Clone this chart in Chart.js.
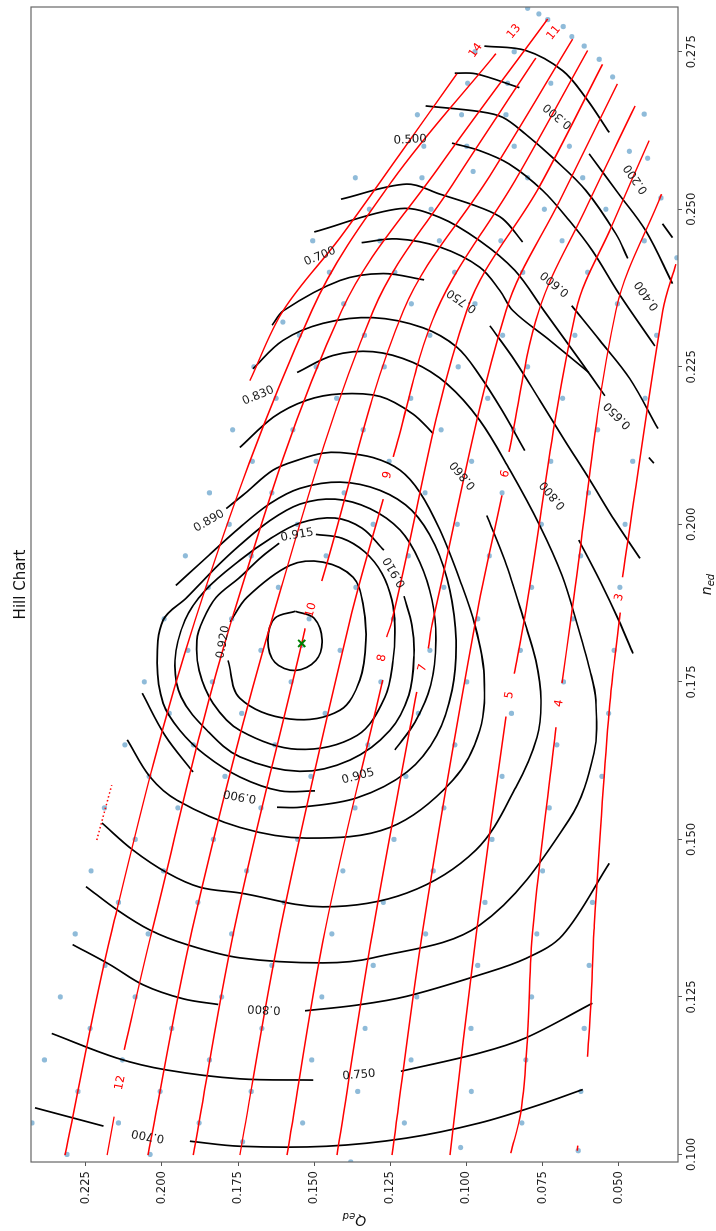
<!DOCTYPE html>
<html>
<head>
<meta charset="utf-8">
<title>Hill Chart</title>
<script src="https://cdn.jsdelivr.net/npm/chart.js@4.4.1/dist/chart.umd.min.js"></script>
<style>
    html, body { margin: 0; padding: 0; background: #fff; overflow: hidden; }
    #turn { position: absolute; left: 0; top: 0; width: 1231px; height: 716px;
            transform-origin: 0 0; transform: translate(0, 1231px) rotate(-90deg); }
</style>
</head>
<body>
<div id="turn"><canvas id="hill" width="1231" height="716"></canvas></div>
<script>
// ===== Axes =====
const nTicks = [0.100, 0.125, 0.150, 0.175, 0.200, 0.225, 0.250, 0.275];
const qTicks = [0.050, 0.075, 0.100, 0.125, 0.150, 0.175, 0.200, 0.225];
const nRange = [0.0988, 0.2821];
const qRange = [0.0305, 0.2430];

// ===== Measured points [n_ed, Q_ed] =====
const measured = [
    [0.275,0.0972],[0.270,0.0996],[0.265,0.1161],[0.265,0.1016],[0.260,0.1140],[0.260,0.0999],[0.256,0.0978],
    [0.255,0.1365],[0.255,0.1146],[0.250,0.1319],[0.250,0.1116],[0.245,0.1505],[0.245,0.1284],[0.245,0.1089],
    [0.240,0.1450],[0.240,0.1235],[0.240,0.1039],[0.235,0.1403],[0.235,0.1181],[0.235,0.0972],
    [0.2819,0.0799],[0.2810,0.0762],[0.2801,0.0733],[0.2790,0.0682],[0.2774,0.0654],[0.2759,0.0613],[0.2738,0.0564],
    [0.2710,0.0520],[0.2651,0.0416],[0.2592,0.0465],[0.2581,0.0405],[0.2518,0.0361],[0.2423,0.0309],
    [0.275,0.0843],[0.270,0.0865],[0.270,0.0723],[0.265,0.0870],[0.260,0.0843],[0.260,0.0662],[0.255,0.0799],
    [0.255,0.0618],[0.250,0.0744],[0.250,0.0542],[0.245,0.0887],[0.245,0.0686],[0.245,0.0416],[0.240,0.0815],
    [0.240,0.0602],[0.235,0.0504],
    [0.215,0.1768],[0.205,0.1844],[0.200,0.1779],[0.195,0.1923],[0.190,0.1848],[0.185,0.1993],[0.185,0.1771],
    [0.2321,0.1603],[0.230,0.1549],[0.230,0.1335],[0.230,0.1120],[0.225,0.1494],[0.225,0.1270],[0.225,0.1027],
    [0.225,0.1698],[0.220,0.1625],[0.220,0.1426],[0.220,0.1183],[0.215,0.1570],[0.215,0.1339],[0.215,0.1083],
    [0.210,0.1703],[0.210,0.1494],[0.210,0.1254],[0.210,0.0983],[0.205,0.1639],[0.205,0.1402],[0.205,0.1136],
    [0.200,0.1555],[0.200,0.1306],[0.200,0.1030],[0.195,0.1707],[0.195,0.1461],[0.195,0.1191],[0.190,0.1618],
    [0.190,0.1363],[0.190,0.1074],[0.185,0.1517],[0.185,0.1240],
    [0.230,0.0881],[0.230,0.0644],[0.230,0.0375],[0.225,0.0799],[0.220,0.0930],[0.220,0.0684],[0.220,0.0413],
    [0.215,0.0846],[0.215,0.0569],[0.210,0.0723],[0.210,0.0454],[0.205,0.0883],[0.205,0.0599],[0.200,0.0754],
    [0.200,0.0479],[0.195,0.0925],[0.195,0.0625],[0.190,0.0786],[0.190,0.0496],
    [0.180,0.1915],[0.175,0.2058],[0.175,0.1834],[0.170,0.1976],[0.165,0.2122],[0.165,0.1897],[0.160,0.2042],
    [0.160,0.1793],[0.155,0.2189],[0.155,0.1948],[0.150,0.2088],[0.150,0.1831],[0.145,0.2233],[0.145,0.1995],
    [0.140,0.2143],[0.140,0.1882],[0.135,0.2285],
    [0.1808,0.1541],[0.180,0.1675],[0.180,0.1415],[0.180,0.1120],[0.175,0.1576],[0.175,0.1281],[0.175,0.0999],
    [0.170,0.1738],[0.170,0.1464],[0.170,0.1158],[0.165,0.1629],[0.165,0.1324],[0.165,0.1038],[0.160,0.1511],
    [0.160,0.1199],[0.155,0.1675],[0.155,0.1366],[0.155,0.1074],[0.150,0.1554],[0.150,0.1238],[0.145,0.1722],
    [0.145,0.1406],[0.145,0.1109],[0.140,0.1599],[0.140,0.1273],
    [0.185,0.0963],[0.185,0.0651],[0.180,0.0823],[0.180,0.0515],[0.175,0.0681],[0.170,0.0852],[0.170,0.0533],
    [0.165,0.0703],[0.160,0.0883],[0.160,0.0555],[0.155,0.0728],[0.150,0.0916],[0.140,0.0586],[0.145,0.0750],
    [0.140,0.0939],
    [0.135,0.2045],[0.135,0.1771],[0.130,0.2187],[0.125,0.2334],[0.125,0.2088],[0.125,0.1804],[0.120,0.2236],
    [0.120,0.1968],[0.115,0.2386],[0.115,0.2130],[0.115,0.1844],[0.110,0.2276],[0.110,0.2006],[0.105,0.2427],
    [0.105,0.2143],[0.105,0.1878],[0.100,0.2312],[0.100,0.2039],
    [0.135,0.1442],[0.135,0.1134],[0.130,0.1639],[0.130,0.1306],[0.130,0.0963],[0.125,0.1475],[0.125,0.1163],
    [0.120,0.1672],[0.120,0.1333],[0.120,0.0985],[0.115,0.1508],[0.115,0.1182],[0.110,0.1707],[0.110,0.1357],
    [0.110,0.0984],[0.105,0.1538],[0.105,0.1204],[0.102,0.1735],[0.0988,0.1380],[0.1011,0.1019],
    [0.135,0.0769],[0.130,0.0597],[0.125,0.0786],[0.120,0.0613],[0.115,0.0805],[0.110,0.0624],[0.105,0.0818],
    [0.1006,0.0633]
];
const bestPoint = [0.1811, 0.1541];

// ===== Efficiency contours [n_ed, Q_ed], split where a label sits =====
const eff925 = [[0.1862,0.1562],[0.1851,0.1500],[0.1816,0.1474],[0.1784,0.1494],[0.1768,0.1562],[0.1781,0.1629],[0.1816,0.1652],[0.1851,0.1629],[0.1862,0.1562]];
const eff920 = [[0.1784,0.1783],[0.1724,0.1744],[0.1691,0.1579],[0.1705,0.1415],[0.1753,0.1350],[0.1816,0.1330],[0.1875,0.1340],[0.1916,0.1372],[0.1940,0.1471],[0.1935,0.1579],[0.1884,0.1721],[0.1845,0.1776]];
const eff915 = [[0.1984,0.1494],[0.1978,0.1409],[0.1956,0.1333],[0.1922,0.1277],[0.1880,0.1245],[0.1835,0.1235],[0.1784,0.1241],[0.1726,0.1267],[0.1665,0.1359],[0.1643,0.1556],[0.1673,0.1744],[0.1716,0.1832],[0.1768,0.1878],[0.1816,0.1885],[0.1848,0.1865],[0.1884,0.1822],[0.1916,0.1744],[0.1949,0.1671],[0.1970,0.1615]];
const eff910 = [[0.1886,0.1205],[0.1840,0.1179],[0.1792,0.1172],[0.1729,0.1189],[0.1673,0.1251],[0.1626,0.1382],[0.1608,0.1547],[0.1631,0.1744],[0.1673,0.1852],[0.1726,0.1937],[0.1784,0.1957],[0.1848,0.1924],[0.1895,0.1858],[0.1943,0.1744],[0.1977,0.1645],[0.2002,0.1547],[0.2010,0.1432],[0.1994,0.1343],[0.1959,0.1271]];
const eff905 = [[0.1642,0.1235],[0.1686,0.1169],[0.1745,0.1117],[0.1816,0.1100],[0.1880,0.1113],[0.1940,0.1153],[0.1991,0.1218],[0.2025,0.1317],[0.2040,0.1432],[0.2032,0.1547],[0.2006,0.1645],[0.1967,0.1744],[0.1930,0.1826],[0.1884,0.1918],[0.1848,0.1996],[0.1780,0.2016],[0.1716,0.1996],[0.1673,0.1941],[0.1634,0.1858],[0.1599,0.1744],[0.1577,0.1612],[0.1577,0.1497]];
const eff900a = [[0.1903,0.1954],[0.1938,0.1875],[0.1995,0.1744],[0.2033,0.1645],[0.2057,0.1547],[0.2067,0.1415],[0.2054,0.1284],[0.2022,0.1179],[0.1967,0.1103],[0.1895,0.1054],[0.1816,0.1034],[0.1737,0.1047],[0.1665,0.1097],[0.1607,0.1195],[0.1566,0.1359],[0.1551,0.1547],[0.1551,0.1622]];
const eff900b = [[0.1607,0.1898],[0.1665,0.1990],[0.1732,0.2065]];
const eff890 = [[0.2025,0.1789],[0.2049,0.1727],[0.2086,0.1635],[0.2103,0.1547],[0.2113,0.1471],[0.2114,0.1415],[0.2106,0.1307],[0.2086,0.1218],[0.2051,0.1153],[0.1991,0.1087],[0.1911,0.1021],[0.1840,0.0972],[0.1761,0.0942],[0.1673,0.0956],[0.1594,0.1044],[0.1519,0.1251],[0.1502,0.1524],[0.1519,0.1744],[0.1562,0.1950],[0.1599,0.2039],[0.1658,0.2114]];
const eff860a = [[0.2122,0.1744],[0.2170,0.1634],[0.2197,0.1524],[0.2207,0.1415],[0.2203,0.1284],[0.2175,0.1175],[0.2144,0.1109]];
const eff860b = [[0.2014,0.0933],[0.1943,0.0874],[0.1848,0.0811],[0.1784,0.0772],[0.1721,0.0755],[0.1662,0.0768],[0.1583,0.0837],[0.1483,0.0969],[0.1415,0.1195],[0.1393,0.1471],[0.1415,0.1744],[0.1424,0.1875],[0.1447,0.1983],[0.1483,0.2095],[0.1526,0.2197]];
const eff830 = [[0.2241,0.1556],[0.2268,0.1438],[0.2274,0.1307],[0.2257,0.1176],[0.2223,0.1064],[0.2165,0.0956],[0.2086,0.0857],[0.1998,0.0759],[0.1919,0.0686],[0.1848,0.0640],[0.1768,0.0594],[0.1721,0.0575],[0.1637,0.0581],[0.1531,0.0663],[0.1364,0.0956],[0.1312,0.1307],[0.1304,0.1471],[0.1312,0.1744],[0.1333,0.1918],[0.1356,0.2039],[0.1388,0.2147],[0.1425,0.2249]];
const eff800a = [[0.2247,0.1701],[0.2292,0.1602],[0.2319,0.1471],[0.2328,0.1307],[0.2312,0.1143],[0.2281,0.1031],[0.2236,0.0956],[0.2181,0.0883],[0.2117,0.0808]];
const eff800b = [[0.1975,0.0631],[0.1911,0.0562],[0.1848,0.0500],[0.1795,0.0453]];
const eff800c = [[0.1333,0.2293],[0.1301,0.2170],[0.1269,0.2061],[0.1247,0.1930],[0.1238,0.1815]];
const eff800d = [[0.1228,0.1530],[0.1237,0.1360],[0.1251,0.1196],[0.1285,0.0956],[0.1311,0.0805],[0.1348,0.0684],[0.1462,0.0531]];
const eff750a = [[0.2316,0.1638],[0.2339,0.1601],[0.2387,0.1415],[0.2398,0.1273],[0.2388,0.1139]];
const eff750b = [[0.2315,0.0923],[0.2260,0.0841],[0.2197,0.0759],[0.2133,0.0677],[0.2070,0.0594],[0.2006,0.0513],[0.1946,0.0430]];
const eff750c = [[0.1192,0.2362],[0.1153,0.2148],[0.1134,0.1984],[0.1120,0.1744],[0.1118,0.1503]];
const eff750d = [[0.1132,0.1215],[0.1161,0.0956],[0.1185,0.0805],[0.1240,0.0586]];
const eff700a = [[0.2447,0.1344],[0.2453,0.1229],[0.2440,0.1087],[0.2408,0.0956],[0.2371,0.0890],[0.2339,0.0847],[0.2292,0.0726],[0.2241,0.0598]];
const eff700b = [[0.1074,0.2417],[0.1045,0.2192]];
const eff700c = [[0.1021,0.1908],[0.1013,0.1744],[0.1013,0.1459],[0.1026,0.1196],[0.1050,0.0956],[0.1079,0.0759],[0.1103,0.0618]];
const eff650a = [[0.2464,0.1500],[0.2501,0.1218],[0.2487,0.1087],[0.2450,0.0956],[0.2403,0.0841],[0.2339,0.0745],[0.2260,0.0627],[0.2204,0.0545]];
const eff650b = [[0.2106,0.0401],[0.2097,0.0384]];
const eff600a = [[0.2516,0.1412],[0.2540,0.1196],[0.2524,0.1087],[0.2503,0.0956],[0.2485,0.0881],[0.2448,0.0815]];
const eff600b = [[0.2347,0.0654],[0.2292,0.0562],[0.2231,0.0463],[0.2152,0.0371]];
const eff500 = [[0.2605,0.1047],[0.2593,0.0956],[0.2572,0.0860],[0.2530,0.0750],[0.2482,0.0662],[0.2434,0.0586],[0.2366,0.0499],[0.2283,0.0381]];
const eff400 = [[0.2664,0.1134],[0.2655,0.0956],[0.2646,0.0881],[0.2619,0.0805],[0.2582,0.0717],[0.2530,0.0608],[0.2461,0.0509],[0.2422,0.0470]];
const eff300a = [[0.2716,0.1038],[0.2715,0.0969],[0.2693,0.0826]];
const eff300b = [[0.2588,0.0597],[0.2524,0.0499],[0.2466,0.0411],[0.2382,0.0323]];
const eff200a = [[0.2759,0.0941],[0.2752,0.0805],[0.2720,0.0684],[0.2677,0.0608],[0.2622,0.0531]];
const eff200b = [[0.2477,0.0356],[0.2455,0.0323]];

// ===== Guide vane opening lines [n_ed, Q_ed] =====
const open14 = [[0.2228,0.1711],[0.2339,0.1602],[0.2455,0.1415],[0.2588,0.1218],[0.2715,0.1031]];
const open14tail = [[0.1499,0.2214],[0.1586,0.2165]];
const open13 = [[0.0999,0.2318],[0.1356,0.2164],[0.1848,0.1891],[0.2339,0.1508],[0.2545,0.1244],[0.2747,0.0903]];
const open12a = [[0.0999,0.2180],[0.1060,0.2157]];
const open12b = [[0.1166,0.2124],[0.1356,0.2032],[0.1848,0.1771],[0.2339,0.1410],[0.2569,0.1087],[0.2802,0.0733]];
const open11 = [[0.0999,0.2046],[0.1356,0.1901],[0.1848,0.1639],[0.2339,0.1306],[0.2545,0.1038],[0.2740,0.0772]];
const open10a = [[0.0999,0.1897],[0.1356,0.1763],[0.1811,0.1541],[0.1835,0.1530]];
const open10b = [[0.1910,0.1475],[0.2339,0.1207],[0.2553,0.0923],[0.2770,0.0651]];
const open9a = [[0.0999,0.1744],[0.1356,0.1612],[0.1848,0.1382],[0.2040,0.1273]];
const open9b = [[0.2107,0.1240],[0.2339,0.1098],[0.2545,0.0841],[0.2752,0.0602]];
const open8a = [[0.0999,0.1589],[0.1356,0.1464],[0.1753,0.1275]];
const open8b = [[0.1821,0.1262],[0.1848,0.1244],[0.2339,0.0999],[0.2537,0.0759],[0.2730,0.0553]];
const open7a = [[0.0999,0.1425],[0.1356,0.1307],[0.1734,0.1163]];
const open7b = [[0.1803,0.1125],[0.1848,0.1110],[0.2339,0.0870],[0.2514,0.0693],[0.2699,0.0504]];
const open6a = [[0.0999,0.1244],[0.1356,0.1143],[0.1848,0.0969],[0.2046,0.0883]];
const open6b = [[0.2115,0.0860],[0.2339,0.0762],[0.2498,0.0611],[0.2664,0.0446]];
const open5a = [[0.0999,0.1054],[0.1356,0.0966],[0.1695,0.0870]];
const open5b = [[0.1763,0.0843],[0.1848,0.0810],[0.2339,0.0640],[0.2474,0.0522],[0.2609,0.0400]];
const open4a = [[0.1002,0.0854],[0.1068,0.0821],[0.1190,0.0799],[0.1356,0.0782],[0.1678,0.0706]];
const open4b = [[0.1748,0.0686],[0.1848,0.0657],[0.2339,0.0509],[0.2524,0.0359]];
const open3a = [[0.1155,0.0602],[0.1240,0.0591],[0.1356,0.0581],[0.1705,0.0531],[0.1860,0.0495]];
const open3b = [[0.1916,0.0487],[0.2339,0.0355],[0.2413,0.0312]];
const open3tail = [[0.1006,0.0636],[0.1014,0.0634]];

// ===== Contour labels [text, n_ed, Q_ed] and their angles =====
const effLabels = [
    ['0.200',0.2548,0.0443],['0.300',0.2648,0.0700],['0.400',0.2363,0.0407],['0.500',0.2610,0.1185],
    ['0.600',0.2382,0.0709],['0.650',0.2173,0.0503],['0.700',0.2425,0.1481],['0.700',0.1030,0.2046],
    ['0.750',0.2355,0.1015],['0.750',0.1126,0.1353],['0.800',0.2046,0.0716],['0.800',0.1231,0.1665],
    ['0.830',0.2204,0.1684],['0.860',0.2078,0.1011],['0.890',0.2005,0.1845],['0.900',0.1569,0.1744],
    ['0.905',0.1600,0.1356],['0.910',0.1924,0.1235],['0.915',0.1983,0.1556],['0.920',0.1813,0.1799]
];
const effAngles = [-35,-50,-35,87,-50,-45,68,-80,-55,85,-40,-87,68,-40,60,-80,75,-30,80,10];
const openLabels = [
    ['14',0.2752,0.0969],['13',0.2782,0.0844],['12',0.1114,0.2137],['11',0.2780,0.0713],['10',0.1864,0.1510],
    ['9',0.2078,0.1259],['8',0.1788,0.1277],['7',0.1772,0.1143],['6',0.2080,0.0872],['5',0.1729,0.0859],
    ['4',0.1716,0.0695],['3',0.1884,0.0498]
];
const openAngles = [35,40,11,40,15,15,12,15,15,10,10,15];

const effLines = [eff925, eff920, eff915, eff910, eff905, eff900a, eff900b, eff890, eff860a, eff860b,
    eff830, eff800a, eff800b, eff800c, eff800d, eff750a, eff750b, eff750c, eff750d,
    eff700a, eff700b, eff700c, eff650a, eff650b, eff600a, eff600b, eff500, eff400,
    eff300a, eff300b, eff200a, eff200b];
const openLines = [open14, open13, open12a, open12b, open11, open10a, open10b, open9a, open9b,
    open8a, open8b, open7a, open7b, open6a, open6b, open5a, open5b, open4a, open4b, open3a, open3b, open3tail];

const toXY = arr => arr.map(([n, q]) => ({ x: n, y: q }));
const FONT = '"DejaVu Sans", sans-serif';

const datasets = [];
datasets.push({
    type: 'scatter', data: toXY(measured), order: 5,
    pointRadius: 2.6, pointHoverRadius: 2.6, borderWidth: 0,
    backgroundColor: 'rgba(31,119,180,0.5)'
});
effLines.forEach(line => datasets.push({
    type: 'line', data: toXY(line), order: 3, showLine: true, pointRadius: 0,
    borderColor: '#000', borderWidth: 1.7, tension: 0.35, fill: false
}));
openLines.forEach(line => datasets.push({
    type: 'line', data: toXY(line), order: 2, showLine: true, pointRadius: 0,
    borderColor: '#ff0000', borderWidth: 1.5, tension: 0.35, fill: false
}));
datasets.push({
    type: 'line', data: toXY(open14tail), order: 2, showLine: true, pointRadius: 0,
    borderColor: '#ff0000', borderWidth: 1.5, borderDash: [1.5, 2.5], fill: false
});
datasets.push({
    type: 'scatter', data: toXY([bestPoint]), order: 1,
    pointStyle: 'crossRot', pointRadius: 5, borderWidth: 2, borderColor: 'green'
});

// ===== Labels, frame and axis titles =====
const decorations = {
    id: 'decorations',
    afterDatasetsDraw(chart) {
        const { ctx, scales: { x, y } } = chart;
        ctx.save();
        ctx.font = '11.6px ' + FONT;
        ctx.textAlign = 'center';
        ctx.textBaseline = 'middle';
        const put = (list, angles, color) => list.forEach(([t, n, q], i) => {
            ctx.save();
            ctx.translate(x.getPixelForValue(n), y.getPixelForValue(q));
            ctx.rotate(angles[i] * Math.PI / 180);
            ctx.fillStyle = color;
            ctx.fillText(t, 0, 0);
            ctx.restore();
        });
        put(effLabels, effAngles, '#1a1a1a');
        put(openLabels, openAngles, '#ff0000');
        ctx.restore();
    },
    afterDraw(chart) {
        const { ctx, chartArea: a } = chart;
        ctx.save();
        ctx.strokeStyle = '#666';
        ctx.lineWidth = 1.2;
        ctx.strokeRect(a.left, a.top, a.right - a.left, a.bottom - a.top);

        ctx.fillStyle = '#111';
        ctx.font = '15px ' + FONT;
        ctx.textAlign = 'center';
        ctx.textBaseline = 'alphabetic';
        ctx.fillText('Hill Chart', (a.left + a.right) / 2, 25);

        const sub = (main, low, cx, base) => {
            ctx.font = 'italic 14px ' + FONT;
            const w1 = ctx.measureText(main).width;
            ctx.font = 'italic 10px ' + FONT;
            const w2 = ctx.measureText(low).width;
            const start = cx - (w1 + w2) / 2;
            ctx.textAlign = 'left';
            ctx.font = 'italic 14px ' + FONT;
            ctx.fillText(main, start, base);
            ctx.font = 'italic 10px ' + FONT;
            ctx.fillText(low, start + w1, base + 3);
        };
        sub('n', 'ed', (a.left + a.right) / 2, 711);
        ctx.translate(15, (a.top + a.bottom) / 2);
        ctx.rotate(-Math.PI / 2);
        sub('Q', 'ed', 0, 0);
        ctx.restore();
    }
};

new Chart(document.getElementById('hill'), {
    data: { datasets },
    options: {
        responsive: false,
        animation: false,
        events: [],
        layout: { padding: { left: 0, right: 6, top: 31, bottom: 0 } },
        plugins: { legend: { display: false }, tooltip: { enabled: false }, title: { display: false } },
        scales: {
            x: {
                type: 'linear', position: 'bottom', min: nRange[0], max: nRange[1],
                afterBuildTicks: s => { s.ticks = nTicks.map(v => ({ value: v })); },
                afterFit: s => { s.height = 38; },
                border: { display: false },
                grid: { drawOnChartArea: false, drawTicks: true, tickLength: 4, tickColor: '#555', tickWidth: 1 },
                ticks: { autoSkip: false, maxRotation: 0, padding: 3, color: '#222',
                         font: { family: FONT, size: 11.6 }, callback: v => v.toFixed(3) }
            },
            y: {
                type: 'linear', position: 'left', min: qRange[0], max: qRange[1],
                afterBuildTicks: s => { s.ticks = qTicks.map(v => ({ value: v })); },
                afterFit: s => { s.width = 69; },
                border: { display: false },
                grid: { drawOnChartArea: false, drawTicks: true, tickLength: 4, tickColor: '#555', tickWidth: 1 },
                ticks: { autoSkip: false, padding: 5, color: '#222',
                         font: { family: FONT, size: 11.6 }, callback: v => v.toFixed(3) }
            }
        }
    },
    plugins: [decorations]
});
</script>
</body>
</html>
